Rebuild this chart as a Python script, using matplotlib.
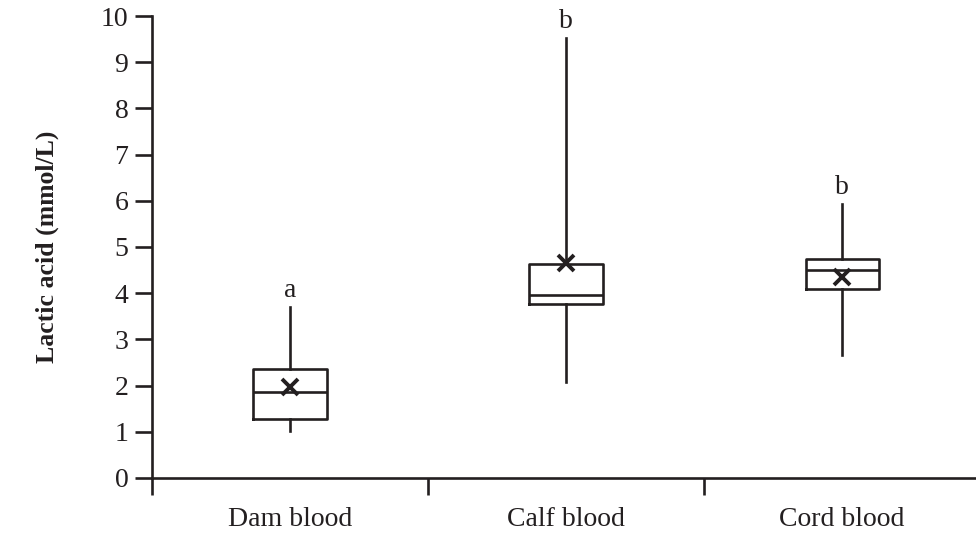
import numpy as np
import matplotlib.pyplot as plt

plt.rcParams['font.family'] = ['Liberation Serif', 'DejaVu Serif']

groups = ['Dam blood', 'Calf blood', 'Cord blood']
whislo = [1.02, 2.08, 2.66]
q1 = [1.28, 3.77, 4.09]
med = [1.86, 3.96, 4.50]
q3 = [2.36, 4.63, 4.74]
whishi = [3.70, 9.52, 5.93]
means = [1.97, 4.65, 4.35]
letters = ['a', 'b', 'b']

stats = []
for i in range(len(groups)):
    stats.append({'whislo': whislo[i], 'q1': q1[i], 'med': med[i], 'q3': q3[i],
                  'whishi': whishi[i], 'fliers': [], 'label': groups[i]})

fig = plt.figure(figsize=(9.76, 5.37), dpi=100)
ax = fig.add_axes([0.1557, 0.1099, 0.8443, 0.8603])

ink = '#231f20'
lw = 1.9
ax.bxp(stats, positions=[1, 2, 3], widths=0.265, showcaps=False,
       boxprops=dict(color=ink, linewidth=lw),
       whiskerprops=dict(color=ink, linewidth=lw),
       medianprops=dict(color=ink, linewidth=lw))
ax.plot([1, 2, 3], means, linestyle='none', marker='x', markersize=11,
        markeredgewidth=2.8, color=ink, zorder=5)

# significance letters above the whiskers
for i, t in enumerate(letters):
    ax.text(i + 1, whishi[i] + 0.08, t, ha='center', va='bottom', fontsize=20,
            color=ink)

ax.set_ylim(0, 10)
ax.set_xlim(0.5, 3.485)
ax.set_yticks(np.arange(0, 11, 1))
ax.set_xticks([0.5, 1.5, 2.5])
ax.set_xticklabels([])
ax.set_xticks([1, 2, 3], minor=True)
ax.set_xticklabels(groups, minor=True)
ax.tick_params(axis='x', which='minor', length=0, pad=21, labelsize=20, labelcolor=ink)
ax.tick_params(axis='x', which='major', length=12, width=lw, direction='out', color=ink)
ax.tick_params(axis='y', length=12, width=lw, direction='out', labelsize=20, pad=5,
               color=ink, labelcolor=ink)
for s in ['top', 'right']:
    ax.spines[s].set_visible(False)
for s in ['left', 'bottom']:
    ax.spines[s].set_linewidth(lw)
    ax.spines[s].set_color(ink)
ax.set_ylabel('Lactic acid (mmol/L)', fontsize=18.5, fontweight='bold', labelpad=30,
              color=ink)

fig.savefig('out.png', dpi=100)
